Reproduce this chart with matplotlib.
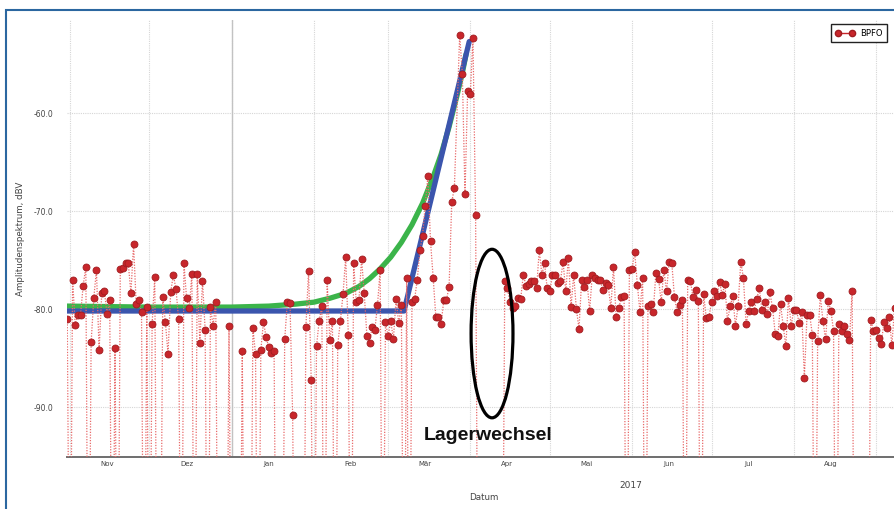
import pandas as pd
import matplotlib
matplotlib.use("Agg")
import matplotlib.pyplot as plt
import matplotlib.dates as mdates
import matplotlib.transforms as mtransforms
from matplotlib.patches import Ellipse, Rectangle
from matplotlib.lines import Line2D

START = pd.Timestamp("2016-11-01")
DROP = -120.0  # readings far below the plotted range (drop-outs)

# BPFO readings: day offset from START, amplitude in dBV
bpfo_days = [
    -1, 0, 1, 2, 3, 4, 5, 6, 7, 8, 9, 10, 11, 12, 13, 14, 15, 16, 17, 18,
    19, 20, 21, 22, 23, 24, 25, 26, 27, 28, 29, 30, 31, 32, 33, 34, 35, 36, 37, 38,
    39, 40, 41, 42, 43, 44, 45, 46, 47, 48, 49, 50, 51, 52, 53, 54, 55, 56, 59, 60,
    61, 64, 65, 66, 68, 69, 70, 71, 72, 73, 74, 75, 76, 77, 78, 80, 81, 82, 83, 84,
    85, 88, 89, 90, 91, 92, 93, 94, 95, 96, 97, 98, 99, 100, 101, 102, 103, 104, 105, 106,
    107, 108, 109, 110, 111, 112, 113, 114, 115, 116, 117, 118, 119, 120, 121, 122, 123, 124, 125, 126,
    127, 128, 129, 130, 131, 132, 133, 134, 135, 136, 137, 138, 139, 140, 141, 142, 143, 144, 145, 147,
    148, 149, 150, 151, 152, 153, 154, 163, 164, 165, 166, 167, 168, 169, 170, 171, 172, 173, 174, 175,
    176, 177, 178, 179, 180, 181, 182, 183, 184, 185, 186, 187, 188, 189, 190, 191, 192, 193, 194, 195,
    196, 197, 198, 199, 200, 201, 202, 203, 204, 205, 206, 207, 208, 209, 210, 211, 212, 213, 214, 215,
    216, 217, 218, 219, 220, 221, 222, 223, 224, 225, 226, 227, 228, 229, 230, 231, 232, 233, 234, 235,
    236, 237, 238, 239, 240, 241, 242, 243, 244, 245, 246, 247, 248, 249, 250, 251, 252, 253, 254, 255,
    256, 257, 258, 259, 260, 261, 262, 263, 264, 265, 266, 267, 268, 269, 270, 271, 272, 273, 274, 275,
    276, 277, 278, 279, 280, 281, 282, 283, 284, 285, 286, 287, 288, 289, 290, 291, 292, 293, 294, 295,
    296, 301, 302, 303, 304, 305, 306, 307, 308, 309, 310, 311,
]
bpfo_dbv = [
    -81.0, DROP, -77.0, -81.6, -80.6, -80.6, -77.6, -75.7, DROP, -83.4, -78.9, -76.0, -84.2, -78.4, -78.2, -80.5, -79.1, DROP, -84.0, DROP,
    -75.9, -75.8, -75.3, -75.3, -78.4, -73.4, -79.5, -79.1, -80.3, DROP, -79.8, DROP, -81.5, -76.7, DROP, DROP, -78.8, -81.3, -84.6, -78.3,
    -76.5, -78.0, -81.0, DROP, -75.3, -78.9, -79.9, -76.4, DROP, -76.4, -83.5, -77.1, -82.1, DROP, -79.8, -81.7, -79.3, DROP, DROP, -81.7,
    DROP, DROP, -84.3, DROP, DROP, -81.9, -84.6, DROP, -84.2, -81.3, -82.9, -83.9, -84.5, -84.3, DROP, DROP, -83.1, -79.3, -79.4, -90.8,
    DROP, DROP, -81.8, -76.1, -87.2, DROP, -83.8, -81.2, -79.7, DROP, -77.0, -83.2, -81.2, DROP, -83.7, -81.2, -78.5, -74.7, -82.6, DROP,
    -75.3, -79.3, -79.1, -74.9, -78.4, -82.7, -83.5, -81.8, -82.1, -79.6, -76.0, DROP, -81.3, -82.8, -81.2, -83.1, -79.0, -81.4, -79.6, DROP,
    -76.8, DROP, -79.3, -79.0, -77.0, -74.0, -72.5, -69.5, -66.4, -73.1, -76.8, -80.8, -80.8, -81.5, -79.1, -79.1, -77.7, -69.1, -67.6, -52.0,
    -56.0, -68.3, -57.7, -58.1, -52.3, -70.4, DROP, DROP, -77.1, -77.9, -79.3, -79.9, -79.7, -78.9, -79.0, -76.5, -77.6, -77.4, -77.1, -77.1,
    -77.9, -74.0, -76.5, -75.3, -77.9, -78.2, -76.5, -76.5, -77.3, -77.1, -75.2, -78.2, -74.8, -79.8, -76.5, -80.0, -82.0, -77.0, -77.8, -77.0,
    -80.2, -76.5, -76.8, -77.0, -77.0, -78.1, -77.3, -77.5, -79.9, -75.7, -80.8, -79.9, -78.8, -78.7, DROP, -76.0, -75.9, -74.2, -77.5, -80.3,
    -76.8, DROP, -79.7, -79.5, -80.3, -76.3, -76.9, -79.3, -76.0, -78.2, -75.2, -75.3, -78.8, -80.3, -79.6, -79.1, DROP, -77.0, -77.1, -78.8,
    -78.1, -79.2, DROP, -78.5, -80.9, -80.8, -79.3, -78.2, -78.7, -77.2, -78.6, -77.4, -81.2, -79.7, -78.7, -81.7, -79.7, -75.2, -76.8, -81.5,
    -80.2, -79.3, -80.2, -79.0, -77.9, -80.1, -79.3, -80.5, -78.3, -79.9, -82.5, -82.7, -79.5, -81.7, -83.8, -78.9, -81.7, -80.1, -80.1, -81.4,
    -80.3, -87.0, -80.6, -80.6, -82.6, DROP, -83.3, -78.6, -81.2, -83.1, -79.2, -80.2, -82.2, DROP, -81.5, -82.2, -81.7, -82.5, -83.2, -78.2,
    DROP, DROP, -81.1, -82.2, -82.1, -83.0, -83.6, -81.3, -81.9, -80.8, -83.7, -79.9,
]

# fitted trend lines
green_days = [-1.1, 30, 61, 75, 85, 92, 98, 104, 109, 113, 117, 121, 125, 129, 133, 137, 140, 143, 146, 148, 149.4]
green_dbv = [-79.7, -79.8, -79.8, -79.7, -79.5, -79.3, -78.9, -78.4, -77.7, -76.9, -75.9, -74.7, -73.2, -71.4,
             -69.2, -66.5, -64.2, -61.4, -58.2, -55.9, -54.0]
blue_days = [-1.1, 126, 150.6]
blue_dbv = [-80.2, -80.2, -52.7]

month_labels = ["Nov", "Dez", "Jan", "Feb", "Mär", "Apr", "Mai", "Jun", "Jul", "Aug"]
y_ticks = [-90.0, -80.0, -70.0, -60.0]

# annotation: marked bearing change
ellipse_center_day, ellipse_center_dbv = 159.2, -82.5
ellipse_width_days, ellipse_height_db = 15.8, 17.2
note_day, note_dbv = 157.7, -92.9


def to_dates(days):
    return START + pd.to_timedelta(days, unit="D")


fig = plt.figure(figsize=(8.94, 5.09), dpi=100)
ax = fig.add_axes([67 / 894, 1 - 457 / 509, 827 / 894, 437 / 509])

ax.plot(to_dates(green_days), green_dbv, color="#3bb44a", lw=3.8, solid_capstyle="round",
        solid_joinstyle="round", zorder=3)
ax.plot(to_dates(blue_days), blue_dbv, color="#3b55ad", lw=3.8, solid_capstyle="round", zorder=4)
ax.plot(to_dates(bpfo_days), bpfo_dbv, linestyle=(0, (1, 1.2)), lw=0.9, color="#e86a6a",
        marker="o", ms=5, mfc="#c8262b", mec="#a01c20", mew=0.6, zorder=5)

ax.set_ylim(-95.1, -50.5)
ax.set_xlim(to_dates([-1.1])[0], to_dates([310.8])[0])

# month grid at the start of each month, labels in the middle
month_starts = pd.date_range("2016-11-01", "2017-09-01", freq="MS")
mid_months = month_starts[:-1] + pd.Timedelta(days=14)
ax.set_xticks(month_starts)
ax.set_xticklabels([])
ax.set_xticks(mid_months, minor=True)
ax.set_xticklabels(month_labels, minor=True, fontsize=5, color="#444444")
ax.tick_params(axis="x", which="both", length=0, pad=3)
ax.grid(axis="x", which="major", linestyle=(0, (1, 1)), color="#d6d6d6", lw=0.8)
ax.axvline(pd.Timestamp("2017-01-01"), color="#c2c2c2", lw=1.0, zorder=1)

ax.set_yticks(y_ticks)
ax.set_yticklabels([f"{v:.1f}" for v in y_ticks], fontsize=5.5, color="#444444")
ax.tick_params(axis="y", length=0, pad=10)
ax.grid(axis="y", linestyle=(0, (1, 1)), color="#d6d6d6", lw=0.8)
ax.set_axisbelow(True)

for side in ("left", "right", "top"):
    ax.spines[side].set_visible(False)
ax.spines["bottom"].set_color("#6e6e6e")
ax.spines["bottom"].set_linewidth(1.4)

ax.set_xlabel("Datum", fontsize=6.3, color="#444444")
ax.xaxis.label.set_va("center")
ax.xaxis.set_label_coords((484 - 67) / 827, (457 - 497) / 437)
ax.set_ylabel("Amplitudenspektrum, dBV", fontsize=6.3, color="#444444")
ax.yaxis.label.set_va("center")
ax.yaxis.set_label_coords((21 - 67) / 827, 0.5)

year_trans = mtransforms.blended_transform_factory(ax.transData, ax.transAxes)
ax.text(to_dates([211.7])[0], (457 - 485) / 437, "2017", transform=year_trans,
        ha="center", va="center", fontsize=6.5, color="#444444")

legend_handle = Line2D([], [], color="#c8262b", lw=1.0, marker="o", ms=4.5,
                       mfc="#c8262b", mec="#a01c20")
leg = ax.legend([legend_handle], ["BPFO"], loc="upper right", bbox_to_anchor=(0.9915, 0.9908),
                borderaxespad=0, fontsize=6, numpoints=2, handlelength=2.2,
                fancybox=False, framealpha=1, borderpad=0.55, handletextpad=0.7)
leg.get_frame().set_edgecolor("#222222")
leg.get_frame().set_linewidth(1.0)

center = mdates.date2num(to_dates([ellipse_center_day])[0])
ax.add_patch(Ellipse((center, ellipse_center_dbv), ellipse_width_days, ellipse_height_db,
                     fill=False, edgecolor="black", lw=2.3, zorder=6))
ax.text(to_dates([note_day])[0], note_dbv, "Lagerwechsel", ha="center", va="center",
        fontsize=14, fontweight="bold", family="Liberation Sans", color="#111111", zorder=7)

# blue frame around the figure
fig.patches.append(Rectangle((5.5 / 894, -0.1), 1.2, 1 - 10 / 509 + 0.1, transform=fig.transFigure,
                             fill=False, edgecolor="#2b67a0", lw=1.5))

fig.savefig("out.png", dpi=100)
